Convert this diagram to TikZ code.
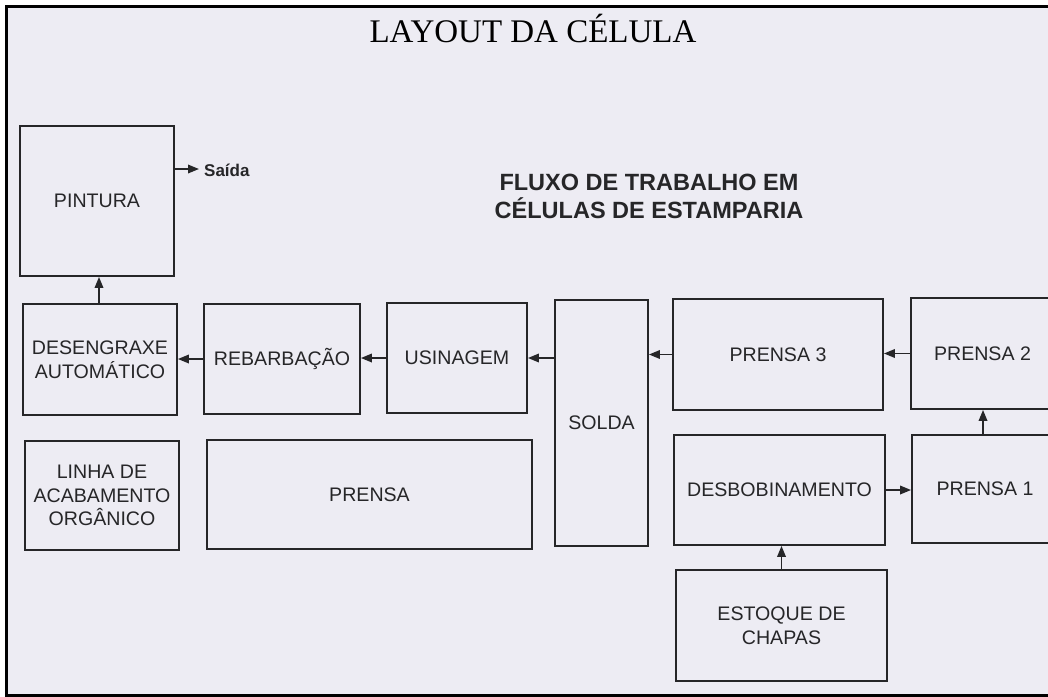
\documentclass[tikz,border=0pt]{standalone}
\usepackage{fontspec}
\setmainfont{Liberation Sans}
\newfontfamily\titlefont{Liberation Serif}
\usetikzlibrary{arrows.meta}
\definecolor{paper}{RGB}{237,236,243}
\definecolor{ink}{RGB}{38,38,40}
\begin{document}
\begin{tikzpicture}[x=1pt,y=-1pt,
  stepbox/.style={draw=ink, line width=1.8pt, inner sep=0pt, align=center, text=ink,
    font=\fontsize{19.6}{23.5}\selectfont},
  flow/.style={draw=ink, line width=1.8pt, -{Triangle[length=11pt,width=8.5pt]}}]
\useasboundingbox (0,0) rectangle (1048,696);
\clip (0,0) rectangle (1048,696);
\fill[white] (0,0) rectangle (1048,696);
\fill[paper] (6,6) rectangle (1060,695);
\draw[line width=3pt, black] (1060,6) -- (6,6) -- (6,695) -- (1060,695);

% title
\node[font=\titlefont\fontsize{33}{40}\selectfont, text=black, anchor=base, inner sep=0pt] (title) at (533,42.5) {LAYOUT DA CÉLULA};
\node[font=\bfseries\fontsize{23.5}{28}\selectfont, text=ink, align=center, inner sep=0pt] (sub) at (649,196) {FLUXO DE TRABALHO EM\\CÉLULAS DE ESTAMPARIA};

% boxes
\node[stepbox, minimum width=154pt, minimum height=150pt] (pint) at (97,201) {PINTURA};
\node[stepbox, minimum width=154pt, minimum height=111pt] (deseng) at (100,359.5) {DESENGRAXE\\AUTOMÁTICO};
\node[stepbox, minimum width=156pt, minimum height=110pt] (rebar) at (282,359) {REBARBAÇÃO};
\node[stepbox, minimum width=140pt, minimum height=110pt] (usin) at (457,358) {USINAGEM};
\node[stepbox, minimum width=93pt, minimum height=246pt] (solda) at (601.5,423) {SOLDA};
\node[stepbox, minimum width=210pt, minimum height=111pt] (p3) at (778,354.5) {PRENSA 3};
\node[stepbox, minimum width=143pt, minimum height=111pt] (p2) at (982.5,353.5) {PRENSA 2};
\node[stepbox, minimum width=146pt, minimum height=108pt] (p1) at (985,489) {PRENSA 1};
\node[stepbox, minimum width=211pt, minimum height=110pt] (desb) at (779.5,490) {DESBOBINAMENTO};
\node[stepbox, minimum width=211pt, minimum height=111pt] (estq) at (781.5,625.5) {ESTOQUE DE\\CHAPAS};
\node[stepbox, minimum width=154pt, minimum height=109pt] (linha) at (102,495.5) {LINHA DE\\ACABAMENTO\\ORGÂNICO};
\node[stepbox, minimum width=325pt, minimum height=109pt] (prensa) at (369.5,494.5) {PRENSA};

% output
\coordinate (saidaend) at (199,169);
\node[anchor=west, font=\bfseries\fontsize{17}{20}\selectfont, text=ink, inner sep=0pt] (saida) at (204,170) {Saída};

% connectors
\draw[flow] (pint.east |- saidaend) -- (saidaend);
\draw[flow] (deseng.north -| 99,0) -- (pint.south -| 99,0);
\draw[flow] (p2.west) -- (p3.east |- p2.west);
\draw[flow] (p3.west) -- (solda.east |- p3.west);
\draw[flow] (solda.west |- usin.east) -- (usin.east);
\draw[flow] (usin.west) -- (rebar.east |- usin.west);
\draw[flow] (rebar.west) -- (deseng.east |- rebar.west);
\draw[flow] (p1.north -| 983,0) -- (p2.south -| 983,0);
\draw[flow] (desb.east) -- (p1.west |- desb.east);
\draw[flow] (estq.north) -- (desb.south -| estq.north);
\end{tikzpicture}
\end{document}
